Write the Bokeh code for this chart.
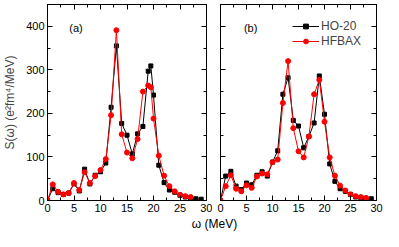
from bokeh.plotting import figure
from bokeh.layouts import column, row
from bokeh.models import (LinearAxis, Label, Range1d, Legend, LegendItem,
                          FixedTicker, CustomLabelingPolicy)
from bokeh.embed import file_html
from bokeh.resources import INLINE

# ---- data ----
omega_a_ho = [0, 1, 2, 3, 4, 5, 6, 7, 8, 9, 10, 11, 12, 13, 14, 15, 16, 17, 18, 19, 19.5, 20, 21, 22, 23, 24, 25, 26, 27, 28, 29]
s_a_ho = [0, 27, 18, 14, 17, 38, 22, 72, 38, 58, 66, 86, 214, 355, 177, 150, 107, 153, 170, 297, 309, 242, 81, 41, 24, 19, 12, 8, 6, 4, 3]
omega_a_hf = [0, 1, 2, 3, 4, 5, 6, 7, 8, 9, 10, 11, 12, 13, 14, 15, 16, 17, 18, 19, 19.5, 20, 21, 22, 23, 24, 25, 26, 27]
s_a_hf = [0, 37, 20, 14, 17, 40, 24, 65, 40, 56, 70, 95, 196, 391, 152, 110, 97, 141, 250, 264, 260, 188, 103, 57, 33, 21, 13, 10, 8]

omega_b_ho = list(range(0, 30))
s_b_ho = [0, 56, 67, 33, 25, 40, 36, 58, 66, 56, 88, 114, 244, 282, 184, 171, 121, 147, 178, 286, 198, 84, 44, 27, 21, 14, 8, 6, 4, 4]
omega_b_hf = list(range(0, 29))
s_b_hf = [0, 33, 58, 27, 21, 35, 29, 55, 62, 60, 88, 94, 224, 320, 166, 113, 99, 147, 244, 277, 181, 99, 57, 34, 23, 14, 10, 8, 6]

x_ticks = [0, 5, 10, 15, 20, 25, 30]
x_minor = [0, 2.5, 5, 7.5, 10, 12.5, 15, 17.5, 20, 22.5, 25, 27.5, 30]
y_ticks = [0, 100, 200, 300, 400]
y_minor = [0, 50, 100, 150, 200, 250, 300, 350, 400, 450]
series_names = ["HO-20", "HFBAX"]
panel_tags = ["(a)", "(b)"]

FONT = "Liberation Sans"


def make_axis(ticks, minor, show):
    ax = LinearAxis(ticker=FixedTicker(ticks=ticks, minor_ticks=minor))
    ax.major_tick_in = 5
    ax.major_tick_out = 0
    ax.minor_tick_in = 3
    ax.minor_tick_out = 0
    ax.axis_line_color = "black"
    ax.major_tick_line_color = "black"
    ax.minor_tick_line_color = "black"
    ax.major_label_text_font = FONT
    ax.major_label_text_color = "black"
    ax.major_label_standoff = 3
    ax.major_label_text_font_size = "11px"
    if not show:
        ax.major_label_standoff = 0
        ax.major_label_text_font_size = "1px"
        ax.major_label_policy = CustomLabelingPolicy(
            code="for (const i of indices) { if (i < 0) { yield i } }")
    return ax


def make_panel(width, bl, br, show_y, xh, yh, xr, yr, tag, tag_x):
    p = figure(width=width, height=214, output_backend="svg", toolbar_location=None,
               x_range=Range1d(0, 30), y_range=Range1d(0, 450),
               min_border_left=bl, min_border_right=br, min_border_top=1, min_border_bottom=0,
               x_axis_location=None, y_axis_location=None)
    p.grid.visible = False
    p.outline_line_color = "black"
    p.background_fill_color = "white"
    bx = make_axis(x_ticks, x_minor, True)
    ly = make_axis(y_ticks, y_minor, show_y)
    tx = make_axis(x_ticks, x_minor, False)
    ry = make_axis(y_ticks, y_minor, False)
    p.add_layout(bx, "below")
    p.add_layout(ly, "left")
    p.add_layout(tx, "above")
    p.add_layout(ry, "right")
    if show_y:
        ly.axis_label = "S(ω) (e²fm⁴/MeV)"
        ly.axis_label_text_font = FONT
        ly.axis_label_text_font_size = "12px"
        ly.axis_label_text_font_style = "normal"
        ly.axis_label_standoff = 6
    l1 = p.line(xh, yh, color="black", line_width=1)
    m1 = p.scatter(xh, yh, marker="square", size=4, color="black")
    l2 = p.line(xr, yr, color="#ff0000", line_width=1)
    m2 = p.scatter(xr, yr, marker="circle", size=5, color="#ff0000")
    p.add_layout(Label(x=tag_x, y=395, text=tag, text_font=FONT, text_font_size="11px",
                       text_color="black", text_baseline="middle"))
    return p, (l1, m1, l2, m2)


pa, _ = make_panel(212, 38, 6, True, omega_a_ho, s_a_ho, omega_a_hf, s_a_hf,
                   panel_tags[0], 4.1)
pb, (l1, m1, l2, m2) = make_panel(171, 8, 7, False, omega_b_ho, s_b_ho, omega_b_hf, s_b_hf,
                                  panel_tags[1], 4.5)

legend = Legend(items=[LegendItem(label=series_names[0], renderers=[l1, m1]),
                       LegendItem(label=series_names[1], renderers=[l2, m2])],
                location=(70, 150))
legend.label_text_font = FONT
legend.label_text_font_size = "12px"
legend.background_fill_alpha = 0
legend.border_line_alpha = 0
legend.glyph_width = 27
legend.glyph_height = 12
legend.spacing = 1
legend.padding = 2
legend.margin = 0
legend.label_standoff = 2
pb.add_layout(legend)

pl = figure(width=383, height=17, output_backend="svg", toolbar_location=None,
            x_range=Range1d(0, 1), y_range=Range1d(0, 1),
            min_border_left=0, min_border_right=0, min_border_top=0, min_border_bottom=0,
            x_axis_location=None, y_axis_location=None)
pl.grid.visible = False
pl.outline_line_color = None
pl.add_layout(Label(x=214, y=8, x_units="screen", y_units="screen", text="ω (MeV)",
                    text_font=FONT, text_font_size="12px", text_align="center",
                    text_baseline="middle", text_color="black"))

layout = column(row(pa, pb), pl)
open("out.html", "w").write(file_html(layout, INLINE))
